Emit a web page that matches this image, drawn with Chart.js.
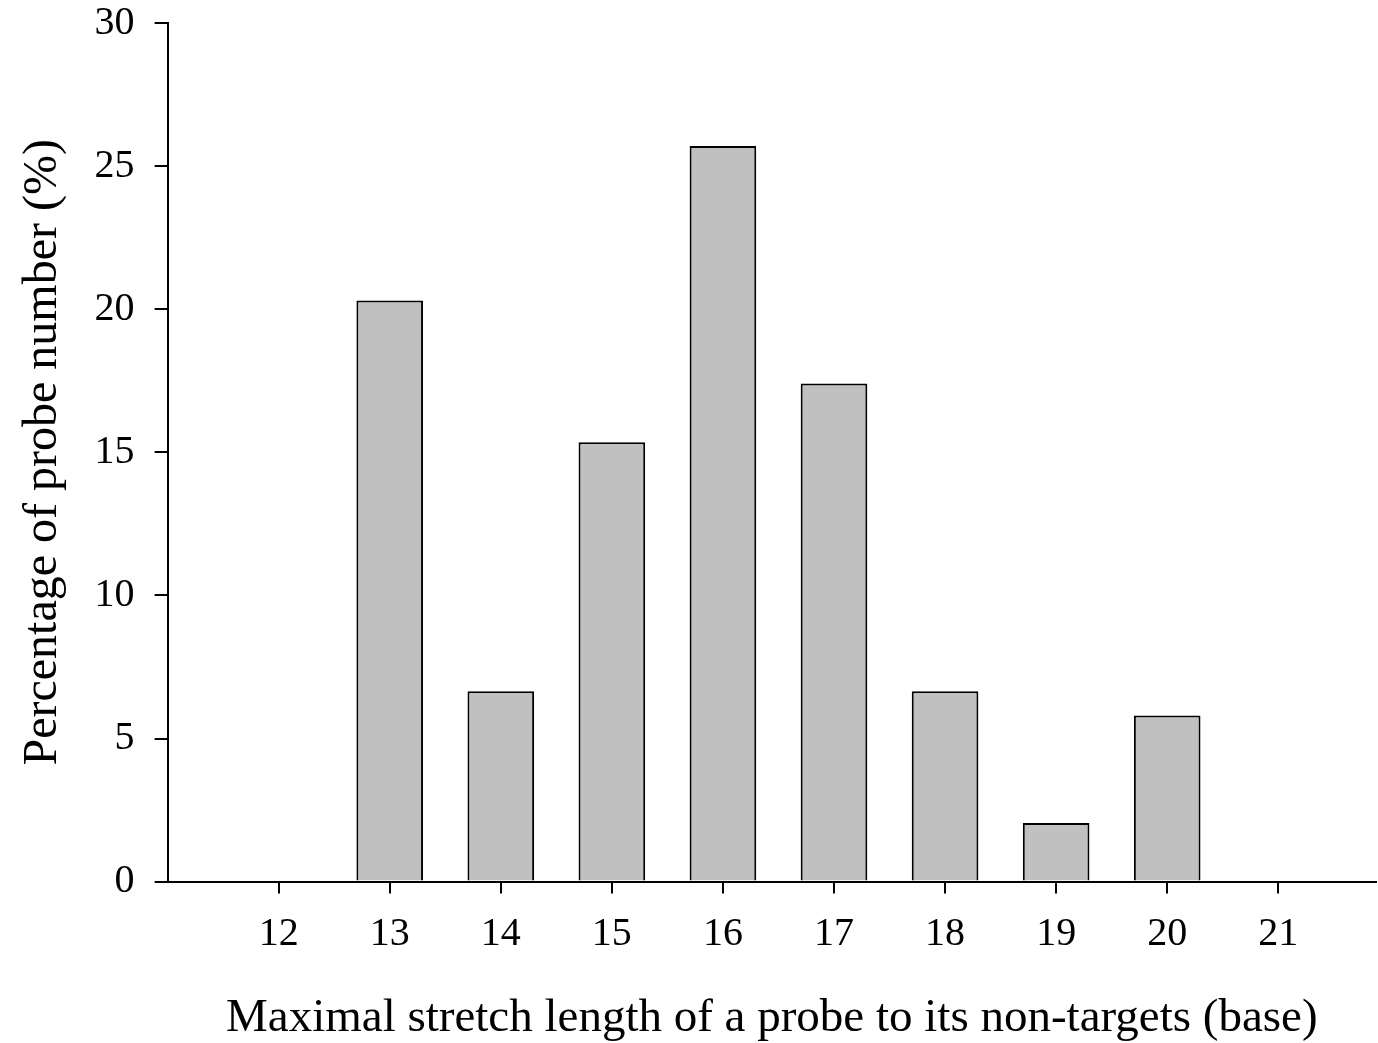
<!DOCTYPE html>
<html>
<head>
<meta charset="utf-8">
<script src="https://cdn.jsdelivr.net/npm/chart.js@4/dist/chart.umd.min.js"></script>
<style>
  html, body { margin: 0; padding: 0; background: #fff; }
  #wrap { width: 1378px; height: 1043px; }
</style>
</head>
<body>
<div id="wrap"><canvas id="chart" width="1378" height="1043"></canvas></div>
<script>
// stretch length (base) and share of probes (%)
const lengths = [12, 13, 14, 15, 16, 17, 18, 19, 20, 21];
const percents = [0, 20.3, 6.65, 15.35, 25.7, 17.4, 6.65, 2.05, 5.8, 0];
const xTicks = [12, 13, 14, 15, 16, 17, 18, 19, 20, 21];
const yTicks = [0, 5, 10, 15, 20, 25, 30];

const serif = "'Liberation Serif', 'Times New Roman', serif";

let ctx = document.getElementById("chart").getContext("2d");
let barChart = new Chart(ctx, {
  type: "bar",
  data: {
    datasets: [
      {
        data: lengths.map((len, i) => ({ x: len, y: percents[i] })),
        backgroundColor: "#c0c0c0",
        borderColor: "#000",
        borderWidth: 2,
        borderSkipped: "start",
        barPercentage: 0.6,
        categoryPercentage: 1,
      },
    ],
  },
  options: {
    responsive: false,
    animation: false,
    layout: { padding: { top: 0, right: 2, left: 15, bottom: -4 } },
    plugins: { legend: { display: false }, tooltip: { enabled: false } },
    scales: {
      x: {
        type: "linear",
        min: 11,
        max: 21.88,
        offset: false,
        afterBuildTicks: function (axis) {
          axis.ticks = xTicks.map((v) => ({ value: v }));
        },
        ticks: {
          color: "#000",
          font: { family: serif, size: 40 },
          padding: 17,
          maxRotation: 0,
          autoSkip: false,
        },
        grid: {
          offset: false,
          drawOnChartArea: false,
          drawTicks: true,
          tickLength: 12,
          color: "#000",
          lineWidth: 2,
        },
        border: { display: true, color: "#000", width: 2 },
        title: {
          display: true,
          text: "Maximal stretch length of a probe to its non-targets (base)",
          color: "#000",
          font: { family: serif, size: 47 },
          padding: { top: 15, bottom: 0 },
        },
      },
      y: {
        min: 0,
        max: 30,
        afterBuildTicks: function (axis) {
          axis.ticks = yTicks.map((v) => ({ value: v }));
        },
        afterFit: function (axis) {
          // only half a label is needed above the top tick
          axis.paddingTop = 23;
        },
        ticks: {
          color: "#000",
          font: { family: serif, size: 40 },
          padding: 20,
        },
        grid: {
          drawOnChartArea: false,
          drawTicks: true,
          tickLength: 13,
          color: "#000",
          lineWidth: 2,
        },
        border: { display: true, color: "#000", width: 2 },
        title: {
          display: true,
          text: "Percentage of probe number (%)",
          color: "#000",
          font: { family: serif, size: 48 },
          padding: { top: 0, bottom: 2 },
        },
      },
    },
  },
});
</script>
</body>
</html>
